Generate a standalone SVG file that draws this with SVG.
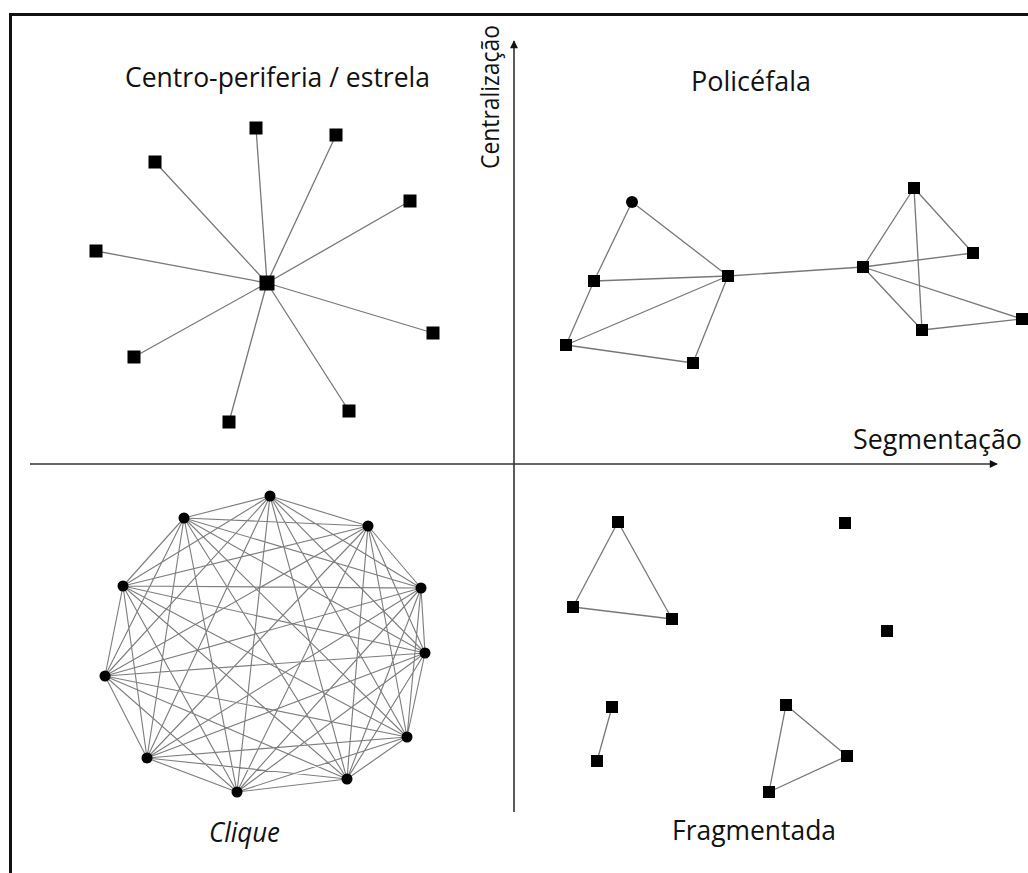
<svg xmlns="http://www.w3.org/2000/svg" width="1028" height="873" viewBox="0 0 1028 873">
<style>
.bg{fill:#fff}
.frame{fill:none;stroke:#111;stroke-width:3}
.axis{stroke:#333;stroke-width:1.6;fill:none}
.edge{stroke:#777;stroke-width:1.3;fill:none}
.cedge{stroke:#7e7e7e;stroke-width:1.15;fill:none}
.sq{fill:#000}
.dot{fill:#000}
.lbl{font-family:"Open Sans","Liberation Sans",sans-serif;font-size:27.5px;fill:#111}
.vl{font-size:26px}
.it{font-style:italic}
</style>
<defs>
<marker id="arr" viewBox="0 0 10 10" refX="9" refY="5" markerWidth="9" markerHeight="8" markerUnits="userSpaceOnUse" orient="auto">
<path d="M0 0L10 5L0 10Z" fill="#111"/>
</marker>
</defs>
<rect class="bg" x="0" y="0" width="1028" height="873"/>
<path class="frame" d="M10.5 873V14.5H1028"/>

<g id="axes">
<line class="axis" x1="514" y1="812" x2="514" y2="41" marker-end="url(#arr)"/>
<line class="axis" x1="30" y1="464" x2="997" y2="464" marker-end="url(#arr)"/>
</g>

<g id="labels">
<text class="lbl" x="125" y="87" textLength="305" lengthAdjust="spacingAndGlyphs">Centro-periferia / estrela</text>
<text class="lbl" x="691" y="91" textLength="120" lengthAdjust="spacingAndGlyphs">Policéfala</text>
<text class="lbl vl" transform="translate(499,169) rotate(-90)" x="0" y="0" textLength="144" lengthAdjust="spacingAndGlyphs">Centralização</text>
<text class="lbl" x="853" y="449" textLength="169" lengthAdjust="spacingAndGlyphs">Segmentação</text>
<text class="lbl it" x="209" y="842" textLength="71" lengthAdjust="spacingAndGlyphs">Clique</text>
<text class="lbl" x="672" y="840" textLength="164" lengthAdjust="spacingAndGlyphs">Fragmentada</text>
</g>

<g id="connectors">
<g id="star-edges" class="edge">
<line x1="267" y1="283" x2="256" y2="128"/>
<line x1="267" y1="283" x2="336" y2="135"/>
<line x1="267" y1="283" x2="155" y2="162"/>
<line x1="267" y1="283" x2="410" y2="201"/>
<line x1="267" y1="283" x2="96" y2="251"/>
<line x1="267" y1="283" x2="433" y2="333"/>
<line x1="267" y1="283" x2="134" y2="357"/>
<line x1="267" y1="283" x2="349" y2="411"/>
<line x1="267" y1="283" x2="229" y2="422"/>
</g>
<g id="poly-edges" class="edge">
<line x1="632" y1="202" x2="594" y2="281"/>
<line x1="632" y1="202" x2="728" y2="276"/>
<line x1="594" y1="281" x2="728" y2="276"/>
<line x1="594" y1="281" x2="566" y2="345"/>
<line x1="566" y1="345" x2="728" y2="276"/>
<line x1="566" y1="345" x2="693" y2="363"/>
<line x1="693" y1="363" x2="728" y2="276"/>
<line x1="728" y1="276" x2="863" y2="267"/>
<line x1="863" y1="267" x2="914" y2="188"/>
<line x1="914" y1="188" x2="973" y2="253"/>
<line x1="914" y1="188" x2="922" y2="330"/>
<line x1="863" y1="267" x2="973" y2="253"/>
<line x1="863" y1="267" x2="922" y2="330"/>
<line x1="863" y1="267" x2="1022" y2="319"/>
<line x1="922" y1="330" x2="1022" y2="319"/>
</g>
<path id="clique-edges" class="cedge" d="M270 496L184 518M270 496L368 526M270 496L123 586M270 496L421 588M270 496L425 653M270 496L105 676M270 496L407 737M270 496L147 758M270 496L347 779M270 496L237 792M184 518L368 526M184 518L123 586M184 518L421 588M184 518L425 653M184 518L105 676M184 518L407 737M184 518L147 758M184 518L347 779M184 518L237 792M368 526L123 586M368 526L421 588M368 526L425 653M368 526L105 676M368 526L407 737M368 526L147 758M368 526L347 779M368 526L237 792M123 586L421 588M123 586L425 653M123 586L105 676M123 586L407 737M123 586L147 758M123 586L347 779M123 586L237 792M421 588L425 653M421 588L105 676M421 588L407 737M421 588L147 758M421 588L347 779M421 588L237 792M425 653L105 676M425 653L407 737M425 653L147 758M425 653L347 779M425 653L237 792M105 676L407 737M105 676L147 758M105 676L347 779M105 676L237 792M407 737L147 758M407 737L347 779M407 737L237 792M147 758L347 779M147 758L237 792M347 779L237 792"/>
<g id="frag-edges" class="edge">
<line x1="618" y1="522" x2="573" y2="607"/>
<line x1="618" y1="522" x2="672" y2="619"/>
<line x1="573" y1="607" x2="672" y2="619"/>
<line x1="612" y1="707" x2="597" y2="761"/>
<line x1="786" y1="705" x2="847" y2="756"/>
<line x1="786" y1="705" x2="769" y2="792"/>
<line x1="847" y1="756" x2="769" y2="792"/>
</g>
</g>

<g id="star-nodes">
<rect id="s0" class="sq" x="259.5" y="275.5" width="15" height="15"/>
<rect id="s1" class="sq" x="249.5" y="121.5" width="13" height="13"/>
<rect id="s2" class="sq" x="329.5" y="128.5" width="13" height="13"/>
<rect id="s3" class="sq" x="148.5" y="155.5" width="13" height="13"/>
<rect id="s4" class="sq" x="403.5" y="194.5" width="13" height="13"/>
<rect id="s5" class="sq" x="89.5" y="244.5" width="13" height="13"/>
<rect id="s6" class="sq" x="426.5" y="326.5" width="13" height="13"/>
<rect id="s7" class="sq" x="127.5" y="350.5" width="13" height="13"/>
<rect id="s8" class="sq" x="342.5" y="404.5" width="13" height="13"/>
<rect id="s9" class="sq" x="222.5" y="415.5" width="13" height="13"/>
</g>

<g id="poly-nodes">
<circle id="p0" class="dot" cx="632" cy="202" r="6"/>
<rect id="p1" class="sq" x="588" y="275" width="12" height="12"/>
<rect id="p2" class="sq" x="722" y="270" width="12" height="12"/>
<rect id="p3" class="sq" x="560" y="339" width="12" height="12"/>
<rect id="p4" class="sq" x="687" y="357" width="12" height="12"/>
<rect id="p5" class="sq" x="857" y="261" width="12" height="12"/>
<rect id="p6" class="sq" x="908" y="182" width="12" height="12"/>
<rect id="p7" class="sq" x="967" y="247" width="12" height="12"/>
<rect id="p8" class="sq" x="916" y="324" width="12" height="12"/>
<rect id="p9" class="sq" x="1016" y="313" width="12" height="12"/>
</g>

<g id="clique-nodes">
<circle id="c1" class="dot" cx="270" cy="496" r="5.5"/>
<circle id="c2" class="dot" cx="184" cy="518" r="5.5"/>
<circle id="c3" class="dot" cx="368" cy="526" r="5.5"/>
<circle id="c4" class="dot" cx="123" cy="586" r="5.5"/>
<circle id="c5" class="dot" cx="421" cy="588" r="5.5"/>
<circle id="c6" class="dot" cx="425" cy="653" r="5.5"/>
<circle id="c7" class="dot" cx="105" cy="676" r="5.5"/>
<circle id="c8" class="dot" cx="407" cy="737" r="5.5"/>
<circle id="c9" class="dot" cx="147" cy="758" r="5.5"/>
<circle id="c10" class="dot" cx="347" cy="779" r="5.5"/>
<circle id="c11" class="dot" cx="237" cy="792" r="5.5"/>
</g>

<g id="frag-nodes">
<rect id="f1" class="sq" x="612" y="516" width="12" height="12"/>
<rect id="f2" class="sq" x="567" y="601" width="12" height="12"/>
<rect id="f3" class="sq" x="666" y="613" width="12" height="12"/>
<rect id="f4" class="sq" x="839" y="517" width="12" height="12"/>
<rect id="f5" class="sq" x="881" y="625" width="12" height="12"/>
<rect id="f6" class="sq" x="606" y="701" width="12" height="12"/>
<rect id="f7" class="sq" x="591" y="755" width="12" height="12"/>
<rect id="f8" class="sq" x="780" y="699" width="12" height="12"/>
<rect id="f9" class="sq" x="841" y="750" width="12" height="12"/>
<rect id="f10" class="sq" x="763" y="786" width="12" height="12"/>
</g>
</svg>
